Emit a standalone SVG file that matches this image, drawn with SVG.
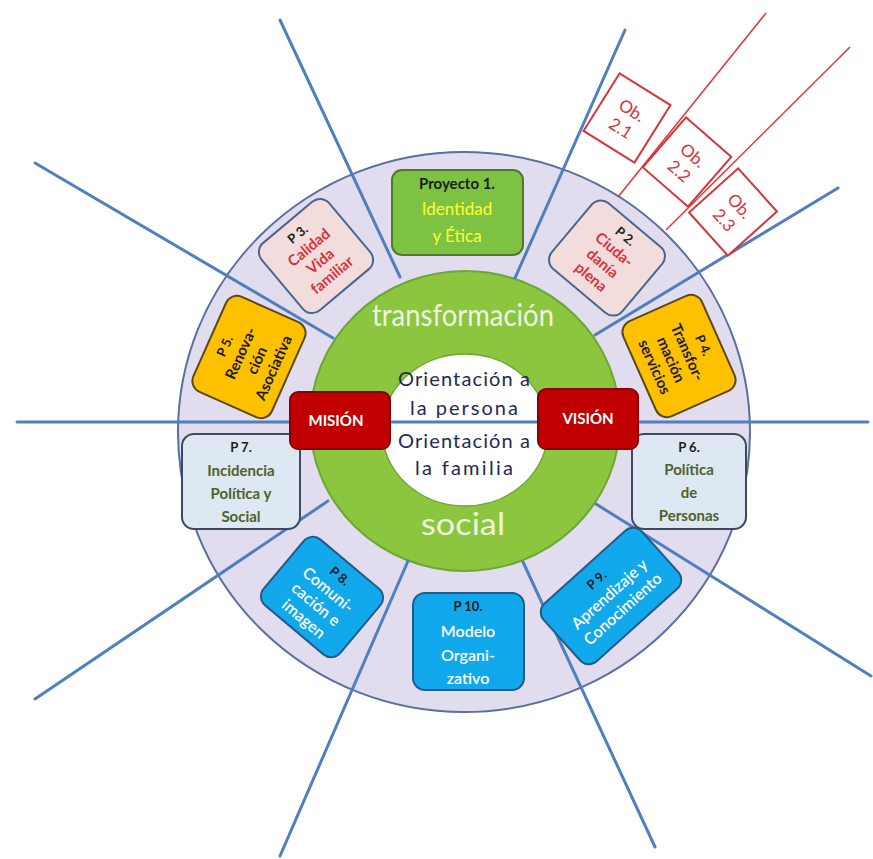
<svg xmlns="http://www.w3.org/2000/svg" width="873" height="859" viewBox="0 0 873 859">
<defs>
<style>
text{font-family:Lato,"Liberation Sans",sans-serif;text-anchor:middle}
.b{font-weight:bold;font-size:15px}
.p{font-weight:bold;font-size:13px;fill:#1c1c1c}
.dk{fill:#1c1c1c}
.red{fill:#d8323a}
.ol{fill:#4f6228}
.wh{fill:#ffffff}
.w16{font-size:16px;fill:#ffffff;font-weight:600}
.yl{fill:#ffff33}
.spoke{stroke:#4f7fbf;stroke-width:3;fill:none;stroke-linecap:round}
.rl{stroke:#e0353c;stroke-width:1.5;fill:none}
.pink{fill:#f3dcdc;stroke:#4a6590;stroke-width:2}
.gold{fill:#ffc000;stroke:#5a4a1a;stroke-width:2}
.pale{fill:#dde8f3;stroke:#3d4a60;stroke-width:2}
.cyan{fill:#12a8ec;stroke:#245a8a;stroke-width:2}
.mv{fill:#c00000;stroke:#8a0000;stroke-width:2}
.ob{fill:#ffffff;stroke:#d8323a;stroke-width:2}
.obt{font-size:17px;fill:#d8323a}
.ctr{font-size:20px;fill:#1f2a55}
.big{font-size:31px;fill:#eef4e0}
</style>
</defs>
<rect width="873" height="859" fill="#ffffff"/>
<g id="rings">
<ellipse cx="464" cy="432" rx="286" ry="280" fill="#e1ddef" stroke="#5a6ea0" stroke-width="2"/>
<ellipse cx="465" cy="421" rx="155" ry="150" fill="#8cc63f" stroke="#6ea636" stroke-width="2"/>
<ellipse cx="465" cy="430" rx="83" ry="76" fill="#ffffff" stroke="#6ea636" stroke-width="1.5"/>
</g>
<g id="connectors">
<line class="spoke" x1="280" y1="20" x2="400" y2="277"/>
<line class="spoke" x1="35" y1="163" x2="333" y2="338"/>
<line class="spoke" x1="17" y1="422" x2="868" y2="422"/>
<line class="spoke" x1="35" y1="699" x2="328" y2="501"/>
<line class="spoke" x1="280" y1="856" x2="408" y2="561"/>
<line class="spoke" x1="655" y1="847" x2="523" y2="562"/>
<line class="spoke" x1="871" y1="676" x2="596" y2="504"/>
<line class="spoke" x1="625" y1="30" x2="515" y2="278"/>
<line class="spoke" x1="838" y1="188" x2="595" y2="335"/>
<line class="rl" x1="766" y1="13" x2="618" y2="197"/>
<line class="rl" x1="850" y1="47" x2="666" y2="230"/>
</g>
<g id="proyecto1">
<rect x="392" y="170" width="131" height="85" rx="10" fill="#7dc242" stroke="#4e7a2a" stroke-width="2"/>
<text class="b dk" x="457" y="189" font-size="14">Proyecto 1.</text>
<text class="yl" x="457" y="215" font-size="17">Identidad</text>
<text class="yl" x="457" y="242" font-size="17">y Ética</text>
</g>
<g id="p3" transform="translate(316,256) rotate(-40)">
<rect x="-44" y="-44" width="88" height="88" rx="12" class="pink"/>
<text class="p" y="-24">P 3.</text>
<text class="b red" y="-6">Calidad</text>
<text class="b red" y="12">Vida</text>
<text class="b red" y="30">familiar</text>
</g>
<g id="p2" transform="translate(607,258) rotate(40)">
<rect x="-46" y="-43" width="92" height="86" rx="12" class="pink"/>
<text class="p" y="-24">P 2.</text>
<text class="b red" y="-6">Ciuda-</text>
<text class="b red" y="12">danía</text>
<text class="b red" y="30">plena</text>
</g>
<g id="p5" transform="translate(249,357) rotate(-66)">
<rect x="-52" y="-43" width="104" height="86" rx="12" class="gold"/>
<text class="p" y="-22">P 5.</text>
<text class="b dk" y="-4">Renova-</text>
<text class="b dk" y="14">ción</text>
<text class="b dk" y="32">Asociativa</text>
</g>
<g id="p4" transform="translate(679,356) rotate(66)">
<rect x="-52" y="-43" width="104" height="86" rx="12" class="gold"/>
<text class="p" y="-22">P 4.</text>
<text class="b dk" y="-4">Transfor-</text>
<text class="b dk" y="14">mación</text>
<text class="b dk" y="32">servicios</text>
</g>
<g id="p7">
<rect x="182" y="434" width="118" height="95" rx="12" class="pale"/>
<text class="p" x="241" y="452">P 7.</text>
<text class="b ol" x="241" y="476">Incidencia</text>
<text class="b ol" x="241" y="499">Política y</text>
<text class="b ol" x="241" y="522">Social</text>
</g>
<g id="p6">
<rect x="632" y="434" width="114" height="95" rx="12" class="pale"/>
<text class="p" x="689" y="452">P 6.</text>
<text class="b ol" x="689" y="475">Política</text>
<text class="b ol" x="689" y="498">de</text>
<text class="b ol" x="689" y="521">Personas</text>
</g>
<g id="p8" transform="translate(322,597) rotate(40)">
<rect x="-50" y="-43" width="100" height="86" rx="12" class="cyan"/>
<text class="p" y="-23">P 8.</text>
<text class="w16" y="-4">Comuni-</text>
<text class="w16" y="15">cación e</text>
<text class="w16" y="34">imagen</text>
</g>
<g id="p10">
<rect x="413" y="593" width="111" height="97" rx="12" class="cyan"/>
<text class="p" x="468" y="611">P 10.</text>
<text class="w16" x="468" y="637">Modelo</text>
<text class="w16" x="468" y="661">Organi-</text>
<text class="w16" x="468" y="684">zativo</text>
</g>
<g id="p9" transform="translate(611,596) rotate(-42)">
<rect x="-66" y="-39" width="132" height="78" rx="12" class="cyan"/>
<text class="p" y="-17">P 9.</text>
<text class="w16" y="3">Aprendizaje y</text>
<text class="w16" y="23">Conocimiento</text>
</g>
<g id="mision">
<rect x="290" y="392" width="100" height="57" rx="8" class="mv"/>
<text class="b wh" x="336" y="426" font-size="14">MISIÓN</text>
</g>
<g id="vision">
<rect x="538" y="389" width="100" height="60" rx="8" class="mv"/>
<text class="b wh" x="588" y="424" font-size="14">VISIÓN</text>
</g>
<g id="center-text">
<text class="big" x="463" y="326" textLength="182" lengthAdjust="spacingAndGlyphs">transformación</text>
<text class="big" x="463" y="535" textLength="84" lengthAdjust="spacingAndGlyphs">social</text>
<text class="ctr" x="464" y="386" textLength="132">Orientación a</text>
<text class="ctr" x="464" y="415" textLength="108">la persona</text>
<text class="ctr" x="464" y="448" textLength="132">Orientación a</text>
<text class="ctr" x="464" y="475" textLength="98">la familia</text>
</g>
<g id="ob21" transform="translate(627,118) rotate(32)">
<rect x="-30" y="-34" width="60" height="68" class="ob"/>
<text class="obt" y="-3">Ob.</text>
<text class="obt" y="18">2.1</text>
</g>
<g id="ob22" transform="translate(687,162) rotate(41)">
<rect x="-30" y="-33" width="60" height="66" class="ob"/>
<text class="obt" y="-3">Ob.</text>
<text class="obt" y="18">2.2</text>
</g>
<g id="ob23" transform="translate(733,212) rotate(48)">
<rect x="-29" y="-33" width="58" height="66" class="ob"/>
<text class="obt" y="-3">Ob.</text>
<text class="obt" y="18">2.3</text>
</g>
</svg>
